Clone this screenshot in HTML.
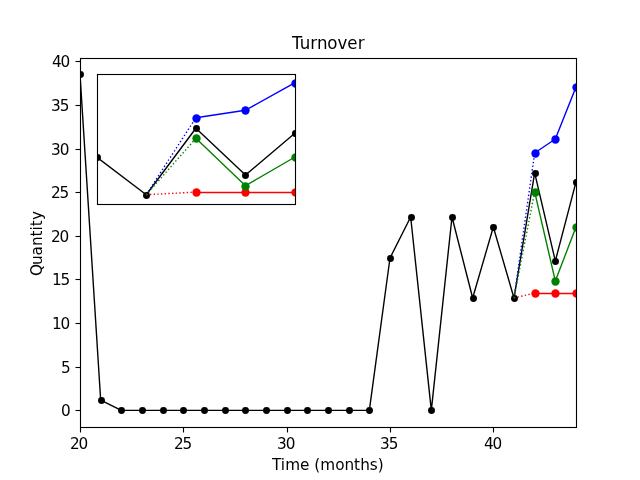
<!DOCTYPE html>
<html lang="en"><head><meta charset="utf-8"><title>Turnover</title>
<style>html,body{margin:0;padding:0;background:#fff}body{width:640px;height:480px;overflow:hidden}svg{display:block}</style>
</head><body>
<svg width="640" height="480" viewBox="0 0 640 480">
<defs><clipPath id="cm"><rect x="80" y="58" width="496" height="369"/></clipPath><clipPath id="ci"><rect x="97" y="74" width="198" height="130"/></clipPath></defs>
<rect width="640" height="480" fill="#fff"/>
<g clip-path="url(#cm)">
<polyline fill="none" stroke="#000" stroke-width="1.39" stroke-linejoin="round" stroke-linecap="square" points="80,74.4 100.67,400.01 121.33,410.4 142,410.4 162.67,410.4 183.33,410.4 204,410.4 224.67,410.4 245.33,410.4 266,410.4 286.67,410.4 307.33,410.4 328,410.4 348.67,410.4 369.33,410.4 390,258.02 410.67,217 431.33,410.4 452,217 472.67,298.04 493.33,227 514,298.04 534.67,172.9 555.33,261 576,182"/>
<circle cx="80.5" cy="74.5" r="3.47" fill="#000"/>
<circle cx="101.5" cy="400.5" r="3.47" fill="#000"/>
<circle cx="121.5" cy="410.5" r="3.47" fill="#000"/>
<circle cx="142.5" cy="410.5" r="3.47" fill="#000"/>
<circle cx="163.5" cy="410.5" r="3.47" fill="#000"/>
<circle cx="183.5" cy="410.5" r="3.47" fill="#000"/>
<circle cx="204.5" cy="410.5" r="3.47" fill="#000"/>
<circle cx="225.5" cy="410.5" r="3.47" fill="#000"/>
<circle cx="245.5" cy="410.5" r="3.47" fill="#000"/>
<circle cx="266.5" cy="410.5" r="3.47" fill="#000"/>
<circle cx="287.5" cy="410.5" r="3.47" fill="#000"/>
<circle cx="307.5" cy="410.5" r="3.47" fill="#000"/>
<circle cx="328.5" cy="410.5" r="3.47" fill="#000"/>
<circle cx="349.5" cy="410.5" r="3.47" fill="#000"/>
<circle cx="369.5" cy="410.5" r="3.47" fill="#000"/>
<circle cx="390.5" cy="258.5" r="3.47" fill="#000"/>
<circle cx="411.5" cy="217.5" r="3.47" fill="#000"/>
<circle cx="431.5" cy="410.5" r="3.47" fill="#000"/>
<circle cx="452.5" cy="217.5" r="3.47" fill="#000"/>
<circle cx="473.5" cy="298.5" r="3.47" fill="#000"/>
<circle cx="493.5" cy="227.5" r="3.47" fill="#000"/>
<circle cx="514.5" cy="298.5" r="3.47" fill="#000"/>
<circle cx="535.5" cy="173.5" r="3.47" fill="#000"/>
<circle cx="555.5" cy="261.5" r="3.47" fill="#000"/>
<circle cx="576.5" cy="182.5" r="3.47" fill="#000"/>
<line x1="514" y1="298.04" x2="534.67" y2="153.05" stroke="#0000ff" stroke-width="1.39" stroke-dasharray="1.39 2.29"/>
<polyline fill="none" stroke="#0000ff" stroke-width="1.39" stroke-linejoin="round" points="534.67,153.05 555.33,138.96 576,87.1"/>
<circle cx="535.5" cy="153.5" r="4.17" fill="#0000ff"/>
<circle cx="555.5" cy="139.5" r="4.17" fill="#0000ff"/>
<circle cx="576.5" cy="87.5" r="4.17" fill="#0000ff"/>
<line x1="514" y1="298.04" x2="534.67" y2="293" stroke="#ff0000" stroke-width="1.39" stroke-dasharray="1.39 2.29"/>
<line x1="534.67" y1="293.5" x2="576" y2="293.5" stroke="#ff0000" stroke-width="1.39"/>
<circle cx="535.5" cy="293.5" r="4.17" fill="#ff0000"/>
<circle cx="555.5" cy="293.5" r="4.17" fill="#ff0000"/>
<circle cx="576.5" cy="293.5" r="4.17" fill="#ff0000"/>
<line x1="514" y1="298.04" x2="534.67" y2="191.82" stroke="#008000" stroke-width="1.39" stroke-dasharray="1.39 2.29"/>
<polyline fill="none" stroke="#008000" stroke-width="1.39" stroke-linejoin="round" points="534.67,191.82 555.33,281.06 576,227"/>
<circle cx="535.5" cy="192.5" r="4.17" fill="#008000"/>
<circle cx="555.5" cy="281.5" r="4.17" fill="#008000"/>
<circle cx="576.5" cy="227.5" r="4.17" fill="#008000"/>
</g>
<g stroke="#000" stroke-width="1.11">
<line x1="80.5" y1="427.5" x2="80.5" y2="432.5"/>
<line x1="183.5" y1="427.5" x2="183.5" y2="432.5"/>
<line x1="287.5" y1="427.5" x2="287.5" y2="432.5"/>
<line x1="390.5" y1="427.5" x2="390.5" y2="432.5"/>
<line x1="493.5" y1="427.5" x2="493.5" y2="432.5"/>
<line x1="75.5" y1="410.5" x2="80.5" y2="410.5"/>
<line x1="75.5" y1="367.5" x2="80.5" y2="367.5"/>
<line x1="75.5" y1="323.5" x2="80.5" y2="323.5"/>
<line x1="75.5" y1="279.5" x2="80.5" y2="279.5"/>
<line x1="75.5" y1="236.5" x2="80.5" y2="236.5"/>
<line x1="75.5" y1="192.5" x2="80.5" y2="192.5"/>
<line x1="75.5" y1="149.5" x2="80.5" y2="149.5"/>
<line x1="75.5" y1="105.5" x2="80.5" y2="105.5"/>
<line x1="75.5" y1="61.5" x2="80.5" y2="61.5"/>
</g>
<rect x="80.5" y="58.5" width="496" height="369" fill="none" stroke="#000" stroke-width="1.11"/>
<rect x="97" y="74" width="198" height="130" fill="#fff"/>
<g clip-path="url(#ci)">
<polyline fill="none" stroke="#000" stroke-width="1.39" stroke-linejoin="round" stroke-linecap="square" points="47.07,194.74 96.67,157.01 146.27,194.74 195.87,128.28 245.47,175.07 295.07,133.11"/>
<circle cx="47.5" cy="195.5" r="3.47" fill="#000"/>
<circle cx="97.5" cy="157.5" r="3.47" fill="#000"/>
<circle cx="146.5" cy="195.5" r="3.47" fill="#000"/>
<circle cx="196.5" cy="128.5" r="3.47" fill="#000"/>
<circle cx="245.5" cy="175.5" r="3.47" fill="#000"/>
<circle cx="295.5" cy="133.5" r="3.47" fill="#000"/>
<line x1="146.27" y1="194.74" x2="195.87" y2="117.74" stroke="#0000ff" stroke-width="1.39" stroke-dasharray="1.39 2.29"/>
<polyline fill="none" stroke="#0000ff" stroke-width="1.39" stroke-linejoin="round" points="195.87,117.74 245.47,110.25 295.07,82.71"/>
<circle cx="196.5" cy="118.5" r="4.17" fill="#0000ff"/>
<circle cx="245.5" cy="110.5" r="4.17" fill="#0000ff"/>
<circle cx="295.5" cy="83.5" r="4.17" fill="#0000ff"/>
<line x1="146.27" y1="194.74" x2="195.87" y2="192.07" stroke="#ff0000" stroke-width="1.39" stroke-dasharray="1.39 2.29"/>
<line x1="195.87" y1="192.5" x2="295.07" y2="192.5" stroke="#ff0000" stroke-width="1.39"/>
<circle cx="196.5" cy="192.5" r="4.17" fill="#ff0000"/>
<circle cx="245.5" cy="192.5" r="4.17" fill="#ff0000"/>
<circle cx="295.5" cy="192.5" r="4.17" fill="#ff0000"/>
<line x1="146.27" y1="194.74" x2="195.87" y2="138.33" stroke="#008000" stroke-width="1.39" stroke-dasharray="1.39 2.29"/>
<polyline fill="none" stroke="#008000" stroke-width="1.39" stroke-linejoin="round" points="195.87,138.33 245.47,185.73 295.07,157.01"/>
<circle cx="196.5" cy="138.5" r="4.17" fill="#008000"/>
<circle cx="245.5" cy="186.5" r="4.17" fill="#008000"/>
<circle cx="295.5" cy="157.5" r="4.17" fill="#008000"/>
</g>
<rect x="97.5" y="74.5" width="198" height="130" fill="none" stroke="#000" stroke-width="1.11"/>
<g font-family="'DejaVu Sans', 'Liberation Sans', sans-serif" fill="#000" opacity="0.999">
<text font-size="15.28" x="70 78.5" y="449">20</text>
<text font-size="15.28" x="174 182.5" y="449">25</text>
<text font-size="15.28" x="277 285.75" y="449">30</text>
<text font-size="15.28" x="380 388.75" y="449">35</text>
<text font-size="15.28" x="484 492.5" y="449">40</text>
<text font-size="15.28" x="272 280.75 285.25 300 310 314.25 320.25 335.25 344.5 354 360.25 369.75 377.75" y="470">Time (months)</text>
<text transform="translate(42 243) rotate(-90)" font-size="15.28" x="-33 -22 -12.5 -3 6.5 12.5 16.75 23" y="0">Quantity</text>
<text font-size="15.28" x="61" y="416">0</text>
<text font-size="15.28" x="61" y="373">5</text>
<text font-size="15.28" x="52 60.5" y="329">10</text>
<text font-size="15.28" x="52 60.5" y="285">15</text>
<text font-size="15.28" x="51 59.5" y="242">20</text>
<text font-size="15.28" x="51 59.5" y="198">25</text>
<text font-size="15.28" x="51 59.75" y="155">30</text>
<text font-size="15.28" x="51 59.75" y="111">35</text>
<text font-size="15.28" x="52 60.5" y="67">40</text>
<text transform="translate(0 48.5) scale(1 1.02)" font-size="16.67" x="292 299.75 310.25 317 327.25 337.5 347.25 357.75" y="0">Turnover</text>
</g></svg>
</body></html>
